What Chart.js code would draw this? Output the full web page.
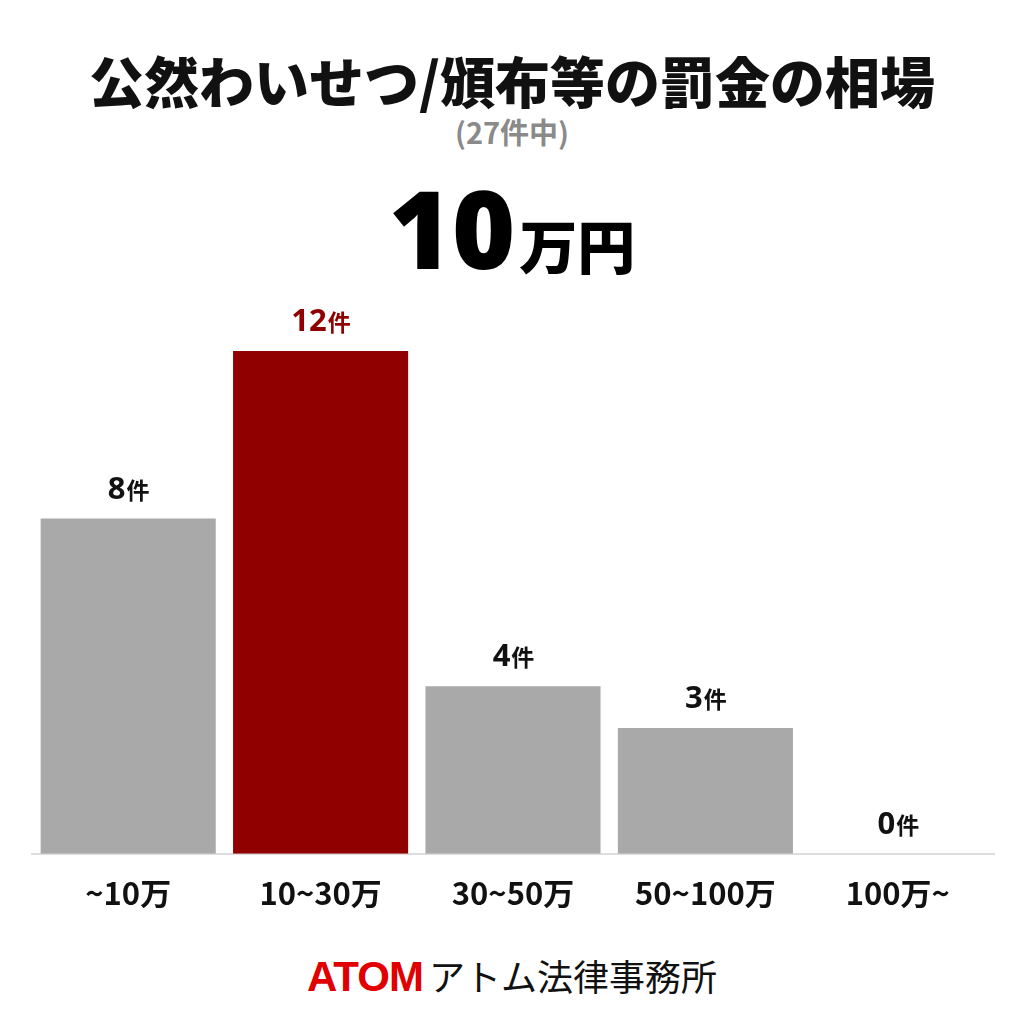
<!DOCTYPE html>
<html lang="ja">
<head>
<meta charset="utf-8">
<script src="https://cdn.jsdelivr.net/npm/chart.js@4.4.1/dist/chart.umd.min.js"></script>
<style>
    html, body { margin: 0; padding: 0; background: #fff; }
    body { width: 1024px; height: 1024px; position: relative; overflow: hidden;
           font-family: "Noto Sans CJK JP", "Noto Sans", sans-serif; }
    .title { position: absolute; top: 39px; left: 0; width: 1024px; text-align: center;
             font-size: 55px; font-weight: 900; color: #111; line-height: 80px; }
    .sub { position: absolute; top: 112px; left: 0; width: 1024px; text-align: center;
           font-size: 29px; font-weight: 700; color: #8a8a8a; line-height: 38px; }
    .big { position: absolute; top: 168px; left: 0; width: 1024px; text-align: center;
           color: #000; font-weight: 900; line-height: 120px; }
    .big .num { font-size: 108px; font-family: "Noto Sans", "DejaVu Sans", sans-serif; font-weight: 900; }
    .big .unit { font-size: 58px; margin-left: 4px; }
    #wrap { position: absolute; left: 0; top: 280px; width: 1024px; height: 660px; }
    .footer { position: absolute; top: 948px; left: 0; width: 1024px; text-align: center;
              line-height: 54px; }
    .footer .atom { font-family: "Liberation Sans", Arial, sans-serif; font-weight: 900;
                    font-size: 42px; color: #e00000; letter-spacing: -1px; }
    .footer .name { font-size: 36px; color: #111; margin-left: 6px; }
</style>
</head>
<body>
<div class="title">公然わいせつ/頒布等の罰金の相場</div>
<div class="sub">(27件中)</div>
<div class="big"><span class="num">10</span><span class="unit">万円</span></div>
<div id="wrap"><canvas id="chart" width="1024" height="660"></canvas></div>
<div class="footer"><span class="atom">ATOM</span><span class="name">アトム法律事務所</span></div>

<script>
const categories = ['~10万', '10~30万', '30~50万', '50~100万', '100万~'];
const counts = [8, 12, 4, 3, 0];
const highlightIndex = 1;

const grayBar = '#a9a9a9';
const redBar = '#900000';
const barColors = counts.map((v, i) => i === highlightIndex ? redBar : grayBar);

// 棒の上に「n件」を描く
const valueLabels = {
    id: 'valueLabels',
    afterDatasetsDraw(chart) {
        const ctx = chart.ctx;
        const meta = chart.getDatasetMeta(0);
        ctx.save();
        ctx.textBaseline = 'alphabetic';
        meta.data.forEach((bar, i) => {
            const num = String(counts[i]);
            const color = i === highlightIndex ? redBar : '#111';
            ctx.font = 'bold 31px "Noto Sans", "Noto Sans CJK JP", sans-serif';
            const w1 = ctx.measureText(num).width;
            ctx.font = 'bold 23px "Noto Sans CJK JP", sans-serif';
            const w2 = ctx.measureText('件').width;
            const x0 = bar.x - (w1 + w2) / 2;
            const y = bar.y - 20;
            ctx.fillStyle = color;
            ctx.font = 'bold 31px "Noto Sans", "Noto Sans CJK JP", sans-serif';
            ctx.textAlign = 'left';
            ctx.fillText(num, x0, y);
            ctx.font = 'bold 23px "Noto Sans CJK JP", sans-serif';
            ctx.fillText('件', x0 + w1 + 1, y);
        });
        ctx.restore();
    }
};

const ctx = document.getElementById('chart').getContext('2d');
new Chart(ctx, {
    type: 'bar',
    data: {
        labels: categories,
        datasets: [{
            data: counts,
            backgroundColor: barColors,
            borderWidth: 0,
            barPercentage: 0.91,
            categoryPercentage: 1.0
        }]
    },
    options: {
        responsive: false,
        animation: false,
        layout: { padding: { left: 32, right: 30, top: 29, bottom: 15 } },
        plugins: {
            legend: { display: false },
            tooltip: { enabled: false },
            title: { display: false }
        },
        scales: {
            x: {
                grid: { display: false },
                border: { display: true, color: '#dddddd', width: 2 },
                ticks: {
                    color: '#111',
                    padding: 13,
                    font: { family: '"Noto Sans CJK JP", sans-serif', size: 31, weight: 'bold' }
                }
            },
            y: {
                display: false,
                min: 0,
                max: 13
            }
        }
    },
    plugins: [valueLabels]
});
</script>
</body>
</html>
